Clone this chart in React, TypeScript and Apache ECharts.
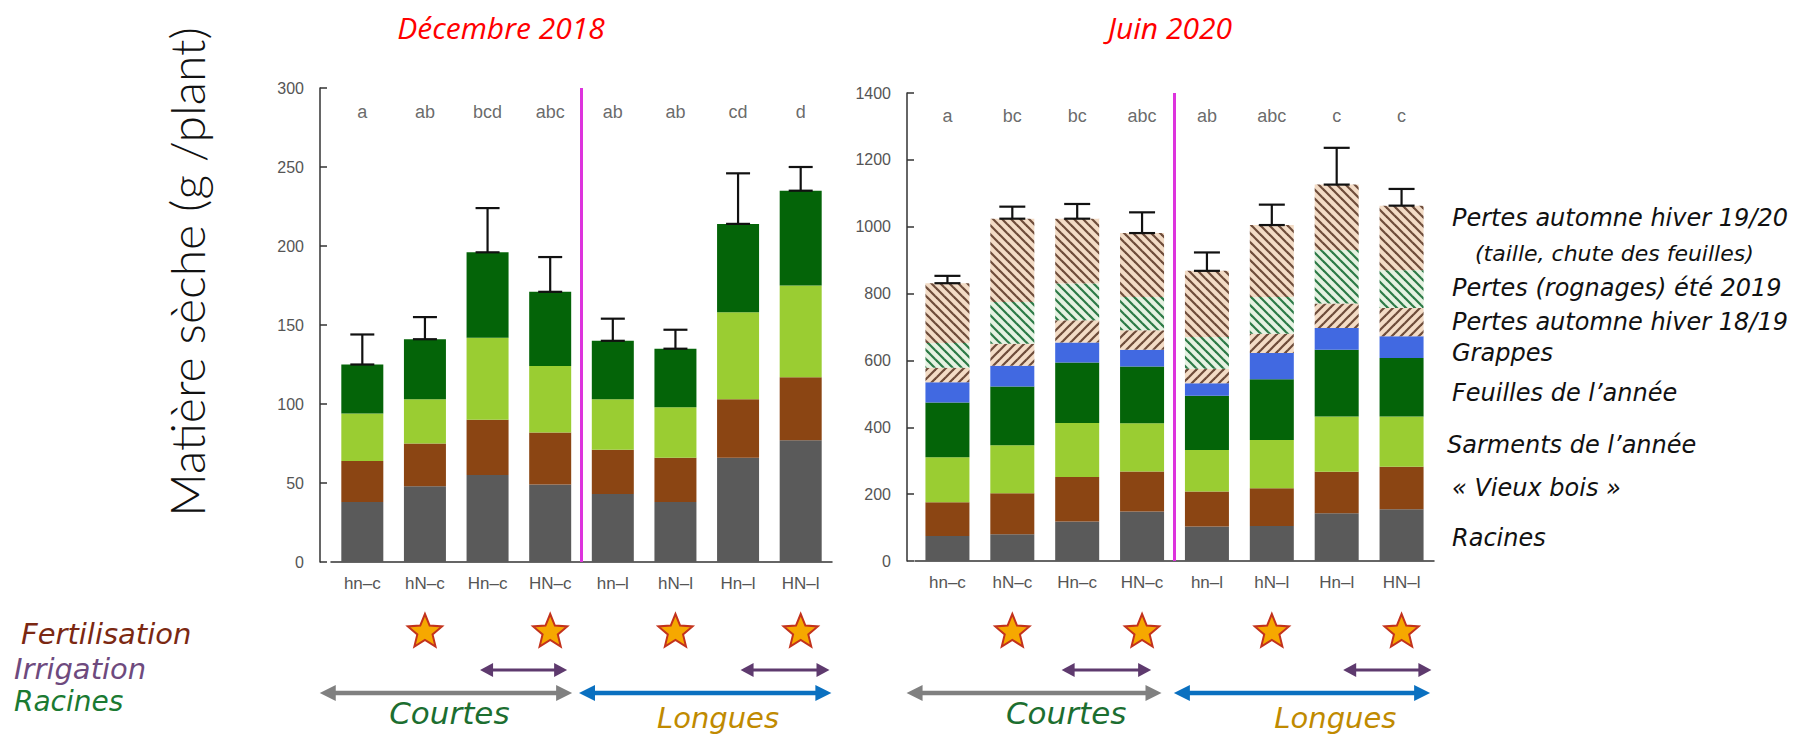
import { useEffect, useRef } from 'react';
import * as echarts from 'echarts';

// Treatments (h/H: irrigation, n/N: fertilisation, c/l: short/long roots)
const categories = ['hn–c', 'hN–c', 'Hn–c', 'HN–c', 'hn–l', 'hN–l', 'Hn–l', 'HN–l'];

// Décembre 2018 — dry matter per compartment (g / plant)
const dec2018Racines = [38, 48, 55, 49, 43, 38, 66, 77];
const dec2018VieuxBois = [26, 27, 35, 33, 28, 28, 37, 40];
const dec2018Sarments = [30, 28, 52, 42, 32, 32, 55, 58];
const dec2018Feuilles = [31, 38, 54, 47, 37, 37, 56, 60];
const dec2018Erreur = [19, 14, 28, 22, 14, 12, 32, 15];
const dec2018Lettres = ['a', 'ab', 'bcd', 'abc', 'ab', 'ab', 'cd', 'd'];

// Juin 2020 — dry matter per compartment (g / plant)
const jun2020Racines = [75, 80, 118, 148, 103, 105, 143, 155];
const jun2020VieuxBois = [101, 123, 133, 120, 105, 113, 124, 127];
const jun2020Sarments = [134, 143, 162, 144, 124, 144, 165, 150];
const jun2020Feuilles = [164, 176, 181, 170, 162, 182, 200, 175];
const jun2020Grappes = [61, 62, 60, 50, 38, 78, 65, 65];
const jun2020Pertes1819 = [43, 66, 66, 58, 43, 58, 73, 85];
const jun2020PertesEte2019 = [74, 125, 110, 100, 95, 110, 160, 113];
const jun2020Pertes1920 = [179, 249, 194, 191, 198, 215, 196, 193];
const jun2020Erreur = [22, 36, 44, 62, 55, 61, 110, 50];
const jun2020Lettres = ['a', 'bc', 'bc', 'abc', 'ab', 'abc', 'c', 'c'];

// Treatment markers shown under each panel
const fertilised = [false, true, false, true, false, true, false, true];

const legendLabels = [
  'Pertes automne hiver 19/20',
  '(taille, chute des feuilles)',
  'Pertes (rognages) été 2019',
  'Pertes automne hiver 18/19',
  'Grappes',
  'Feuilles de l’année',
  'Sarments de l’année',
  '« Vieux bois »',
  'Racines',
];

const C_RACINES = '#5a5a5a';
const C_VIEUX = '#8b4513';
const C_SARMENTS = '#9acd32';
const C_FEUILLES = '#046408';
const C_GRAPPES = '#4169e1';
const HAND = "'DejaVu Sans', 'Open Sans', sans-serif";
const OPEN = "'Open Sans', 'DejaVu Sans', sans-serif";
const HELV = "'Liberation Sans', Arial, sans-serif";

const sum = (arrs: number[][]) => arrs[0].map((_, i) => arrs.reduce((s, a) => s + a[i], 0));

// Diagonal hatch tile; dir 1 draws "\" strokes, dir -1 draws "/" strokes
function hatchPattern(bg: string, fg: string, dir: number) {
  const p = 9;
  const c = document.createElement('canvas');
  c.width = p;
  c.height = p;
  const g = c.getContext('2d')!;
  g.fillStyle = bg;
  g.fillRect(0, 0, p, p);
  g.strokeStyle = fg;
  g.lineWidth = 2.2;
  for (const k of [-p, 0, p]) {
    g.beginPath();
    if (dir > 0) {
      g.moveTo(-2, -2 + k);
      g.lineTo(p + 2, p + 2 + k);
    } else {
      g.moveTo(-2, p + 2 + k);
      g.lineTo(p + 2, -2 + k);
    }
    g.stroke();
  }
  return { image: c.toDataURL(), imageWidth: p, imageHeight: p, repeat: 'repeat' };
}

function stackBar(name: string, data: number[], color: any, axis: number, stack: string, barWidth: number) {
  return {
    type: 'bar',
    name,
    data,
    stack,
    xAxisIndex: axis,
    yAxisIndex: axis,
    barWidth,
    itemStyle: { color },
    emphasis: { disabled: true },
  };
}

function errorSeries(axis: number, totals: number[], errs: number[], cap: number) {
  return {
    type: 'custom',
    xAxisIndex: axis,
    yAxisIndex: axis,
    z: 10,
    data: totals.map((t, i) => [i, t, t + errs[i]]),
    renderItem: (_p: any, api: any) => {
      const lo = api.coord([api.value(0), api.value(1)]);
      const hi = api.coord([api.value(0), api.value(2)]);
      const st = { stroke: '#111', lineWidth: 2.2 };
      return {
        type: 'group',
        children: [
          { type: 'line', shape: { x1: lo[0], y1: lo[1], x2: hi[0], y2: hi[1] }, style: st },
          { type: 'line', shape: { x1: hi[0] - cap / 2, y1: hi[1], x2: hi[0] + cap / 2, y2: hi[1] }, style: st },
          { type: 'line', shape: { x1: lo[0] - cap / 2, y1: lo[1], x2: lo[0] + cap / 2, y2: lo[1] }, style: st },
        ],
      };
    },
  };
}

function dividerSeries(axis: number, top: number) {
  return {
    type: 'custom',
    xAxisIndex: axis,
    yAxisIndex: axis,
    z: 9,
    data: [[3, 4, top]],
    renderItem: (_p: any, api: any) => {
      const a = api.coord([api.value(0), 0]);
      const b = api.coord([api.value(1), api.value(2)]);
      const x = (a[0] + b[0]) / 2;
      return { type: 'line', shape: { x1: x, y1: a[1], x2: x, y2: b[1] }, style: { stroke: '#dd33dd', lineWidth: 3 } };
    },
  };
}

function letterSeries(axis: number, y: number, letters: string[]) {
  return {
    type: 'scatter',
    xAxisIndex: axis,
    yAxisIndex: axis,
    symbolSize: 1,
    itemStyle: { color: 'rgba(0,0,0,0)' },
    data: letters.map((_, i) => [i, y]),
    label: {
      show: true,
      position: 'inside',
      formatter: (p: any) => letters[p.dataIndex],
      color: '#444',
      fontSize: 18,
      fontFamily: HELV,
    },
    silent: true,
  };
}

function axisPair(grid: number, max: number, interval: number, offset: number) {
  return {
    x: {
      type: 'category',
      gridIndex: grid,
      data: categories,
      axisTick: { show: false },
      axisLine: { show: true, lineStyle: { color: '#333', width: 1.5 } },
      axisLabel: { color: '#555', fontSize: 17, fontFamily: HELV, margin: 13 },
    },
    y: {
      type: 'value',
      gridIndex: grid,
      min: 0,
      max,
      interval,
      offset,
      axisLine: { show: true, lineStyle: { color: '#333', width: 1.5 } },
      axisTick: { show: true, inside: true, length: 7, lineStyle: { color: '#333', width: 1.5 } },
      axisLabel: { color: '#555', fontSize: 16, fontFamily: HELV, margin: 16, formatter: (v: number) => String(v) },
      splitLine: { show: false },
    },
  };
}

function starPoints(cx: number, cy: number, R: number, r: number) {
  const pts: number[][] = [];
  for (let k = 0; k < 10; k++) {
    const a = -Math.PI / 2 + (k * Math.PI) / 5;
    const rad = k % 2 ? r : R;
    pts.push([cx + rad * Math.cos(a), cy + rad * Math.sin(a)]);
  }
  return pts;
}

function doubleArrow(x1: number, x2: number, y: number, color: string, lw: number, hl: number, hw: number) {
  return [
    { type: 'line', shape: { x1: x1 + hl * 0.6, y1: y, x2: x2 - hl * 0.6, y2: y }, style: { stroke: color, lineWidth: lw } },
    { type: 'polygon', shape: { points: [[x1, y], [x1 + hl, y - hw], [x1 + hl, y + hw]] }, style: { fill: color } },
    { type: 'polygon', shape: { points: [[x2, y], [x2 - hl, y - hw], [x2 - hl, y + hw]] }, style: { fill: color } },
  ];
}

export default function App() {
  const ref = useRef<HTMLDivElement>(null);

  useEffect(() => {
    if (!ref.current) return;
    const chart = echarts.init(ref.current, undefined, { renderer: 'svg' });

    const left = axisPair(0, 300, 50, 11);
    const right = axisPair(1, 1400, 200, 8);
    const decTotals = sum([dec2018Racines, dec2018VieuxBois, dec2018Sarments, dec2018Feuilles]);
    const junTotals = sum([
      jun2020Racines, jun2020VieuxBois, jun2020Sarments, jun2020Feuilles,
      jun2020Grappes, jun2020Pertes1819, jun2020PertesEte2019, jun2020Pertes1920,
    ]);

    const hatchBrownDown = hatchPattern('#f3dcc6', '#6e4c3a', 1);
    const hatchBrownUp = hatchPattern('#f3dcc6', '#6e4c3a', -1);
    const hatchGreenDown = hatchPattern('#e6f2e2', '#2c7a46', 1);

    chart.setOption({
      animation: false,
      backgroundColor: '#ffffff',
      grid: [
        { left: 331, top: 88, width: 501, height: 474 },
        { left: 915, top: 93, width: 519, height: 468 },
      ],
      xAxis: [left.x, right.x],
      yAxis: [left.y, right.y],
      series: [
        stackBar('Racines', dec2018Racines, C_RACINES, 0, 'dec', 42),
        stackBar('Vieux bois', dec2018VieuxBois, C_VIEUX, 0, 'dec', 42),
        stackBar('Sarments', dec2018Sarments, C_SARMENTS, 0, 'dec', 42),
        stackBar('Feuilles', dec2018Feuilles, C_FEUILLES, 0, 'dec', 42),
        errorSeries(0, decTotals, dec2018Erreur, 24),
        dividerSeries(0, 300),
        letterSeries(0, 285, dec2018Lettres),

        stackBar('Racines', jun2020Racines, C_RACINES, 1, 'jun', 44),
        stackBar('Vieux bois', jun2020VieuxBois, C_VIEUX, 1, 'jun', 44),
        stackBar('Sarments', jun2020Sarments, C_SARMENTS, 1, 'jun', 44),
        stackBar('Feuilles', jun2020Feuilles, C_FEUILLES, 1, 'jun', 44),
        stackBar('Grappes', jun2020Grappes, C_GRAPPES, 1, 'jun', 44),
        stackBar('Pertes automne hiver 18/19', jun2020Pertes1819, hatchBrownUp, 1, 'jun', 44),
        stackBar('Pertes (rognages) été 2019', jun2020PertesEte2019, hatchGreenDown, 1, 'jun', 44),
        stackBar('Pertes automne hiver 19/20', jun2020Pertes1920, hatchBrownDown, 1, 'jun', 44),
        errorSeries(1, junTotals, jun2020Erreur, 26),
        dividerSeries(1, 1400),
        letterSeries(1, 1330, jun2020Lettres),
      ],
    });

    // Annotations under both panels, placed from the category axes
    const slot = (g: number) => {
      const a = chart.convertToPixel({ gridIndex: g }, [0, 0]) as number[];
      const b = chart.convertToPixel({ gridIndex: g }, [1, 0]) as number[];
      return (i: number) => a[0] + i * (b[0] - a[0]);
    };
    const graphics: any[] = [];
    [0, 1].forEach((g) => {
      const sx = slot(g);
      fertilised.forEach((f, i) => {
        if (f) {
          graphics.push({
            type: 'polygon',
            shape: { points: starPoints(sx(i), 632, 18, 8) },
            style: { fill: '#f6a800', stroke: '#c3321c', lineWidth: 2 },
          });
        }
      });
      const irr = g === 0 ? [[1.88, 3.27], [6.04, 7.46]] : [[1.76, 3.14], [6.1, 7.46]];
      irr.forEach(([a, b]) => graphics.push(...doubleArrow(sx(a), sx(b), 670, '#5e3a6e', 3, 13, 7)));
      const shortSpan = g === 0 ? [-0.68, 3.35] : [-0.63, 3.3];
      const longSpan = g === 0 ? [3.46, 7.49] : [3.49, 7.44];
      graphics.push(...doubleArrow(sx(shortSpan[0]), sx(shortSpan[1]), 693, '#808080', 4.5, 16, 8));
      graphics.push(...doubleArrow(sx(longSpan[0]), sx(longSpan[1]), 693, '#0a70c0', 4.5, 16, 8));
      graphics.push({
        type: 'text', x: sx(g === 0 ? 1.39 : 1.83), y: 713,
        style: { text: 'Courtes', fill: '#1c6e30', font: `oblique 31px ${HAND}`, align: 'center', verticalAlign: 'middle' },
      });
      graphics.push({
        type: 'text', x: sx(g === 0 ? 5.68 : 5.98), y: 718,
        style: { text: 'Longues', fill: '#c08a00', font: `oblique 29px ${HAND}`, align: 'center', verticalAlign: 'middle' },
      });
    });

    const legendY = [218, 253, 288, 322, 353, 393, 445, 488, 538];
    legendLabels.forEach((t, i) => {
      graphics.push({
        type: 'text', x: i === 1 ? 1475 : i === 6 ? 1447 : 1452, y: legendY[i],
        style: { text: t, fill: '#111', font: `oblique ${i === 1 ? 22 : 24}px ${HAND}`, verticalAlign: 'middle' },
      });
    });

    graphics.push(
      { type: 'text', x: 501, y: 27, style: { text: 'Décembre 2018', fill: '#ff0000', font: `italic 30px ${OPEN}`, align: 'center', verticalAlign: 'middle' } },
      { type: 'text', x: 1170, y: 27, style: { text: 'Juin 2020', fill: '#ff0000', font: `italic 30px ${OPEN}`, align: 'center', verticalAlign: 'middle' } },
      { type: 'text', x: 186, y: 272, rotation: Math.PI / 2, style: { text: 'Matière sèche (g /plant)', fill: '#111', font: `300 48px Lato, 'Open Sans', sans-serif`, align: 'center', verticalAlign: 'middle' } },
      { type: 'text', x: 21, y: 634, style: { text: 'Fertilisation', fill: '#7b2812', font: `oblique 29px ${HAND}`, verticalAlign: 'middle' } },
      { type: 'text', x: 14, y: 669, style: { text: 'Irrigation', fill: '#6e4a7e', font: `oblique 29px ${HAND}`, verticalAlign: 'middle' } },
      { type: 'text', x: 14, y: 701, style: { text: 'Racines', fill: '#1a7a32', font: `oblique 28px ${HAND}`, verticalAlign: 'middle' } },
    );

    chart.setOption({ graphic: graphics });

    return () => chart.dispose();
  }, []);

  return <div ref={ref} style={{ position: 'fixed', left: 0, top: 0, width: 1808, height: 738 }} />;
}
